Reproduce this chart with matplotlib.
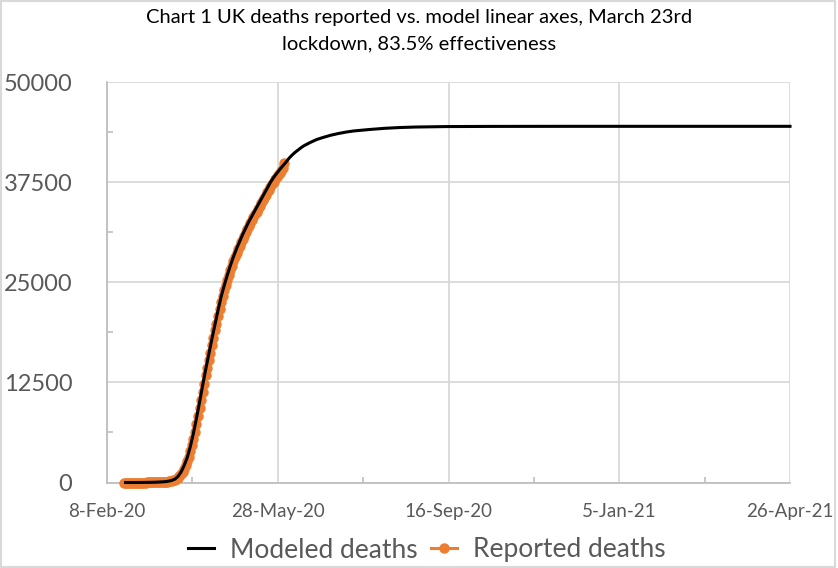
import pandas as pd
import matplotlib.pyplot as plt
from matplotlib.patches import Rectangle
from matplotlib.ticker import FixedLocator

plt.rcParams['font.family'] = ['Lato', 'DejaVu Sans']

# x axis (Excel-style numeric date axis, 4 intervals of 110.75 days)
axis_start = pd.Timestamp('2020-02-08')
axis_step = 110.75
tick_labels = ['8-Feb-20', '28-May-20', '16-Sep-20', '5-Jan-21', '26-Apr-21']
y_ticks = [0, 12500, 25000, 37500, 50000]

# modeled deaths, days after 8-Feb-20
model_day = [12, 16, 20, 24, 28, 32, 36, 38, 40, 42, 44, 46, 48, 50, 52, 54, 56, 58,
             60, 62, 64, 66, 68, 70, 72, 74, 76, 78, 80, 82, 84, 86, 88, 90, 92, 94,
             96, 98, 100, 102, 104, 106, 108, 110, 112, 114, 116, 118, 120, 122, 124,
             126, 128, 132, 136, 140, 145, 150, 155, 160, 170, 180, 190, 200, 220,
             250, 300, 350, 400, 443]
model_deaths = [0, 0, 0, 10, 20, 40, 80, 110, 170, 260, 420, 750, 1300, 2100, 3100,
                4450, 6100, 8000, 10000, 12100, 14100, 16000, 17900, 19700, 21500,
                23200, 24600, 25900, 27100, 28200, 29200, 30100, 31000, 31800, 32600,
                33300, 34000, 34700, 35400, 36100, 36800, 37500, 38100, 38600, 39100,
                39550, 40000, 40500, 40900, 41250, 41550, 41850, 42100, 42500, 42850,
                43100, 43380, 43600, 43780, 43920, 44100, 44250, 44350, 44410, 44470,
                44490, 44500, 44500, 44500, 44500]

# reported deaths, daily from 19-Feb-20
reported_start = '2020-02-19'
reported_deaths = [0, 0, 0, 0, 0, 0, 0, 0, 0, 0, 0, 0, 0, 0, 0,
                   1, 2, 2, 3, 4, 6, 8, 10, 10, 21, 35, 55, 71, 104, 144, 177, 233,
                   281, 335, 430, 580, 760, 1000, 1300, 1690, 2150, 2650, 3200, 3900,
                   4650, 5450, 6350, 7300, 8250, 9300, 10250, 11350, 12300, 13400,
                   14300, 15300, 16150, 17200, 18100, 19000, 19850, 20800, 21700,
                   22500, 23300, 24000, 24700, 25300, 25950, 26500, 27100, 27650,
                   28150, 28650, 29150, 29550, 30000, 30450, 30850, 31300, 31650,
                   32100, 32450, 32800, 33150, 33500, 33850, 34200, 34500, 34900,
                   35250, 35600, 35900, 36300, 36600, 36950, 37300, 37550, 37900,
                   38150, 38400, 38700, 38950, 39250, 39900]

model_dates = axis_start + pd.to_timedelta(model_day, unit='D')
reported_dates = pd.date_range(reported_start, periods=len(reported_deaths), freq='D')

fig = plt.figure(figsize=(8.38, 5.68), dpi=100)
ax = fig.add_axes([107 / 838, 1 - 482.5 / 568, (790 - 107) / 838, (482.5 - 82.3) / 568])

grid_c = '#D9D9D9'
axis_c = '#BFBFBF'
text_c = '#595959'

ax.plot(reported_dates, reported_deaths, color='#ED7D31', lw=2.2, marker='o',
        ms=6.5, label='Reported deaths', clip_on=False, zorder=3)
ax.plot(model_dates, model_deaths, color='black', lw=2.2,
        label='Modeled deaths', clip_on=False, zorder=4)

x0 = axis_start
major_x = [x0 + pd.Timedelta(days=axis_step * i) for i in range(5)]
minor_x = [x0 + pd.Timedelta(days=axis_step * (i + 0.5)) for i in range(4)]
ax.set_xlim(major_x[0], major_x[-1])
ax.set_xticks(major_x)
ax.set_xticklabels(tick_labels)
ax.set_xticks(minor_x, minor=True)
ax.set_ylim(0, 50000)
ax.set_yticks(y_ticks)
ax.set_yticklabels([str(v) for v in y_ticks])
ax.yaxis.set_minor_locator(FixedLocator([6250, 18750, 31250, 43750]))

ax.grid(True, which='major', color=grid_c, lw=1.3)
ax.set_axisbelow(True)
for side in ['top', 'right']:
    ax.spines[side].set_visible(False)
for side in ['left', 'bottom']:
    ax.spines[side].set_color(axis_c)
    ax.spines[side].set_linewidth(1.3)

ax.tick_params(axis='both', which='major', length=0, colors=text_c)
ax.tick_params(axis='both', which='minor', direction='in', length=4, color=axis_c, width=1.2)
ax.tick_params(axis='y', which='major', labelsize=17, pad=25)
ax.tick_params(axis='x', which='major', labelsize=13.5, pad=15)

fig.text(0.5, 1 - 17 / 568, 'Chart 1 UK deaths reported vs. model linear axes, March 23rd',
         ha='center', va='center', fontsize=14.5, color='black')
fig.text(0.5, 1 - 44 / 568, 'lockdown, 83.5% effectiveness',
         ha='center', va='center', fontsize=14.5, color='black')

handles, labels = ax.get_legend_handles_labels()
leg = fig.legend(handles[::-1], labels[::-1], loc='center',
                 bbox_to_anchor=(426.5 / 838, 1 - 550 / 568),
                 ncol=2, frameon=False, fontsize=19, labelcolor=text_c,
                 handlelength=1.0, handletextpad=0.6, columnspacing=0.5)

fig.patches.append(Rectangle((0.001, 0.002), 0.995, 0.996, transform=fig.transFigure,
                             fill=False, edgecolor=grid_c, lw=1.5))

fig.savefig('out.png', dpi=100)
